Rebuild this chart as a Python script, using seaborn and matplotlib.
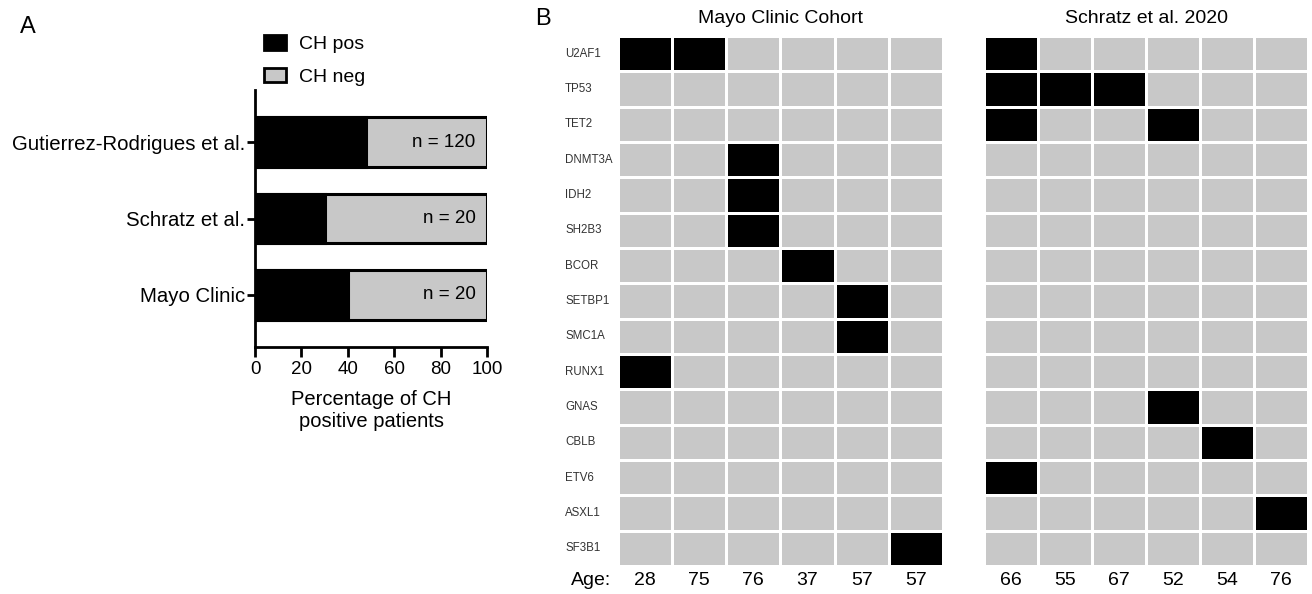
import numpy as np
import pandas as pd
import matplotlib
matplotlib.use("Agg")
import matplotlib.pyplot as plt
from matplotlib.colors import ListedColormap
from matplotlib.patches import Patch
import seaborn as sns

# ----------------------------
# data
# ----------------------------
studies = ["Gutierrez-Rodrigues et al.", "Schratz et al.", "Mayo Clinic"]
pct_pos = [48, 30, 40]
pct_total = [100, 100, 100]
n_labels = ["n = 120", "n = 20", "n = 20"]

genes = ["U2AF1", "TP53", "TET2", "DNMT3A", "IDH2", "SH2B3", "BCOR", "SETBP1",
         "SMC1A", "RUNX1", "GNAS", "CBLB", "ETV6", "ASXL1", "SF3B1"]
mayo_ages = [28, 75, 76, 37, 57, 57]
schratz_ages = [66, 55, 67, 52, 54, 76]

# 1 = mutated, one row per gene
mayo_mut = [
    [1, 1, 0, 0, 0, 0],
    [0, 0, 0, 0, 0, 0],
    [0, 0, 0, 0, 0, 0],
    [0, 0, 1, 0, 0, 0],
    [0, 0, 1, 0, 0, 0],
    [0, 0, 1, 0, 0, 0],
    [0, 0, 0, 1, 0, 0],
    [0, 0, 0, 0, 1, 0],
    [0, 0, 0, 0, 1, 0],
    [1, 0, 0, 0, 0, 0],
    [0, 0, 0, 0, 0, 0],
    [0, 0, 0, 0, 0, 0],
    [0, 0, 0, 0, 0, 0],
    [0, 0, 0, 0, 0, 0],
    [0, 0, 0, 0, 0, 1],
]
schratz_mut = [
    [1, 0, 0, 0, 0, 0],
    [1, 1, 1, 0, 0, 0],
    [1, 0, 0, 1, 0, 0],
    [0, 0, 0, 0, 0, 0],
    [0, 0, 0, 0, 0, 0],
    [0, 0, 0, 0, 0, 0],
    [0, 0, 0, 0, 0, 0],
    [0, 0, 0, 0, 0, 0],
    [0, 0, 0, 0, 0, 0],
    [0, 0, 0, 0, 0, 0],
    [0, 0, 0, 1, 0, 0],
    [0, 0, 0, 0, 1, 0],
    [1, 0, 0, 0, 0, 0],
    [0, 0, 0, 0, 0, 1],
    [0, 0, 0, 0, 0, 0],
]

GREY = "#c8c8c8"
sns.set_theme(style="white")
plt.rcParams["font.family"] = ["Liberation Sans", "DejaVu Sans"]
plt.rcParams["text.color"] = "black"
plt.rcParams["axes.labelcolor"] = "black"
plt.rcParams["xtick.color"] = "black"
plt.rcParams["ytick.color"] = "black"

fig = plt.figure(figsize=(13.12, 5.94), dpi=100)

# ----------------------------
# panel A: stacked bars
# ----------------------------
axA = fig.add_axes([0.1944, 0.4158, 0.1768, 0.4327])
bar_df = pd.DataFrame({"study": studies, "pos": pct_pos, "total": pct_total})
sns.barplot(data=bar_df, y="study", x="total", orient="h", color=GREY,
            edgecolor="black", linewidth=2.2, width=0.65, saturation=1, ax=axA)
sns.barplot(data=bar_df, y="study", x="pos", orient="h", color="black",
            edgecolor="black", linewidth=2.2, width=0.65, saturation=1, ax=axA)
for i, lab in enumerate(n_labels):
    axA.text(95, i, lab, ha="right", va="center", fontsize=13.5)
axA.set_xlim(0, 100)
axA.set_ylim(2.68, -0.68)
axA.set_xticks([0, 20, 40, 60, 80, 100])
axA.set_xlabel("Percentage of CH\npositive patients", fontsize=14.5, labelpad=9)
axA.set_ylabel("")
axA.tick_params(axis="x", labelsize=13.5, length=7, width=2, bottom=True, pad=3)
axA.tick_params(axis="y", labelsize=14.7, length=6, width=2, left=True, pad=1)
sns.despine(ax=axA)
for s in ["left", "bottom"]:
    axA.spines[s].set_linewidth(2)
    axA.spines[s].set_color("black")

handles = [Patch(facecolor="black", edgecolor="black", linewidth=2, label="CH pos"),
           Patch(facecolor=GREY, edgecolor="black", linewidth=2, label="CH neg")]
fig.legend(handles=handles, loc="upper left", bbox_to_anchor=(0.188, 0.97),
           frameon=False, fontsize=14, handlelength=1.1, handleheight=0.75,
           handletextpad=0.7, labelspacing=0.75)

fig.text(0.015, 0.945, "A", fontsize=17)
fig.text(0.408, 0.958, "B", fontsize=17)

# ----------------------------
# panel B: mutation heatmaps
# ----------------------------
cmap = ListedColormap([GREY, "black"])
axM = fig.add_axes([0.471, 0.0471, 0.2477, 0.8923])
axS = fig.add_axes([0.750, 0.0471, 0.2470, 0.8923])

mayo_df = pd.DataFrame(mayo_mut, index=genes, columns=mayo_ages)
schratz_df = pd.DataFrame(schratz_mut, index=genes, columns=schratz_ages)

sns.heatmap(mayo_df, ax=axM, cmap=cmap, vmin=0, vmax=1, cbar=False,
            linewidths=1.8, linecolor="white", xticklabels=mayo_ages,
            yticklabels=genes)
sns.heatmap(schratz_df, ax=axS, cmap=cmap, vmin=0, vmax=1, cbar=False,
            linewidths=1.8, linecolor="white", xticklabels=schratz_ages,
            yticklabels=False)

axM.set_title("Mayo Clinic Cohort", fontsize=14, pad=9)
axS.set_title("Schratz et al. 2020", fontsize=14, pad=9)
for ax in (axM, axS):
    ax.tick_params(axis="x", labelsize=14, length=0, pad=4, rotation=0)
    ax.set_xlabel("")
    ax.set_ylabel("")
axM.tick_params(axis="y", labelsize=8.3, length=0, pad=38, rotation=0)
for t in axM.get_yticklabels():
    t.set_horizontalalignment("left")
    t.set_color("#333333")

fig.text(0.4355, 0.0235, "Age:", fontsize=14, va="center")

fig.savefig("out.png", dpi=100)
